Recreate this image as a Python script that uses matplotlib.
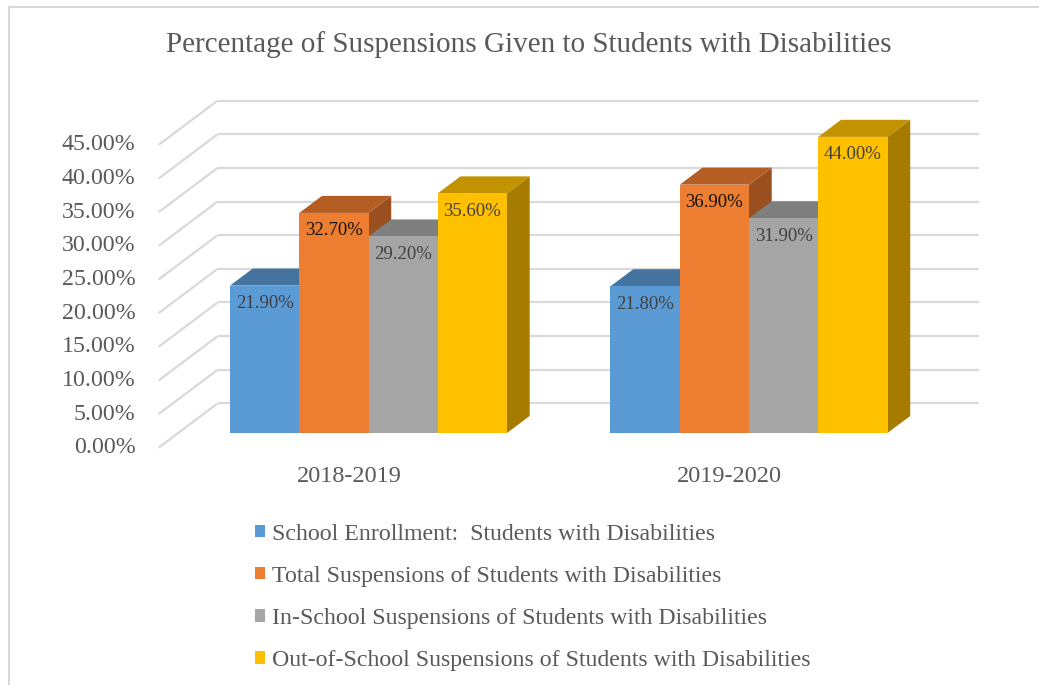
import matplotlib
matplotlib.use("Agg")
import matplotlib.pyplot as plt
from matplotlib.patches import Polygon, Patch

plt.rcParams['font.family'] = ['Liberation Serif', 'DejaVu Serif']

years = ['2018-2019', '2019-2020']
series = ['School Enrollment:  Students with Disabilities',
          'Total Suspensions of Students with Disabilities',
          'In-School Suspensions of Students with Disabilities',
          'Out-of-School Suspensions of Students with Disabilities']
enroll = [21.9, 21.8]
total_susp = [32.7, 36.9]
in_school = [29.2, 31.9]
out_school = [35.6, 44.0]
values = [enroll, total_susp, in_school, out_school]
yticks = [0, 5, 10, 15, 20, 25, 30, 35, 40, 45]

front = ['#5B9BD5', '#ED7D31', '#A5A5A5', '#FFC000']
top = ['#44739F', '#B55E24', '#7F7F7F', '#C29200']
side = ['#3A6389', '#9A4F1E', '#6E6E6E', '#A67C00']
lbl_col = ['#404040', '#111111', '#404040', '#404040']
grey = '#595959'
grid = '#D9D9D9'

# pixel scale of the category / value axes
W, H = 1039, 685
px_x, px_y = 380.5, 6.73
x0_px, y0_px = 368.5, 433

fig = plt.figure(figsize=(W / 100, H / 100), dpi=100)
ax = fig.add_axes([0, 0, 1, 1])
ax.set_xlim(-x0_px / px_x, (W - x0_px) / px_x)
ax.set_ylim((y0_px - H) / px_y, y0_px / px_y)
ax.axis('off')

# oblique depth direction (full wall depth)
ddx, ddy = 59 / px_x, 44.3 / px_y
t_front, t_back, t_bar = -0.332, 0.668, 0.385
fdx, fdy = ddx * t_front, ddy * t_front
bdx, bdy = ddx * t_back, ddy * t_back
rdx, rdy = ddx * t_bar, ddy * t_bar

# walls and gridlines
xl, xr = -0.5, 1.5
for v in yticks:
    ax.plot([xl + fdx, xl + bdx], [v + fdy, v + bdy], color=grid, lw=1.6, zorder=1,
            solid_capstyle='butt')
    ax.plot([xl + bdx, xr + bdx], [v + bdy, v + bdy], color=grid, lw=1.6, zorder=1,
            solid_capstyle='butt')
    ax.annotate(f'{v:.2f}%', (xl + fdx, v + fdy), xytext=(-16.5, 0),
                textcoords='offset points', ha='right', va='center',
                fontsize=17.2, color=grey)

# bars: side, top, front, left to right
bw = 0.182
z = 2
for g in range(len(years)):
    for i, vals in enumerate(values):
        v = vals[g]
        x = g + (i - 1.5) * bw
        l, r = x - bw / 2, x + bw / 2
        ax.add_patch(Polygon([(r, 0), (r, v), (r + rdx, v + rdy), (r + rdx, rdy)],
                             closed=True, fc=side[i], ec='none', zorder=z))
        ax.add_patch(Polygon([(l, v), (r, v), (r + rdx, v + rdy), (l + rdx, v + rdy)],
                             closed=True, fc=top[i], ec='none', zorder=z))
        ax.bar(x, v, bw, color=front[i], zorder=z, linewidth=0)
        ax.annotate(f'{v:.2f}%', (x, v), xytext=(0, -13), textcoords='offset points',
                    ha='center', va='center', fontsize=13.5, color=lbl_col[i], zorder=z)
        z += 1

for g, yr in enumerate(years):
    ax.annotate(yr, (g + fdx, fdy), xytext=(0, -21), textcoords='offset points',
                ha='center', va='center', fontsize=17.5, color=grey)

fig.text(529 / W, 1 - 45 / H, 'Percentage of Suspensions Given to Students with Disabilities',
         ha='center', va='center', fontsize=21, color=grey)

handles = [Patch(fc=c, ec='none') for c in front]
leg = fig.legend(handles, series, loc='upper left', bbox_to_anchor=(245 / W, 1 - 514 / H),
                 frameon=False, fontsize=17.2, handlelength=0.45, handleheight=0.45,
                 handletextpad=0.3, labelspacing=0.88, borderaxespad=0)
for t in leg.get_texts():
    t.set_color(grey)

# outer chart border
fig.add_artist(plt.Line2D([8.5 / W, 8.5 / W], [0, 1 - 7 / H], color=grid, lw=1.5))
fig.add_artist(plt.Line2D([8.5 / W, 1], [1 - 7 / H, 1 - 7 / H], color=grid, lw=1.5))

fig.savefig('out.png', dpi=100, facecolor='white')
